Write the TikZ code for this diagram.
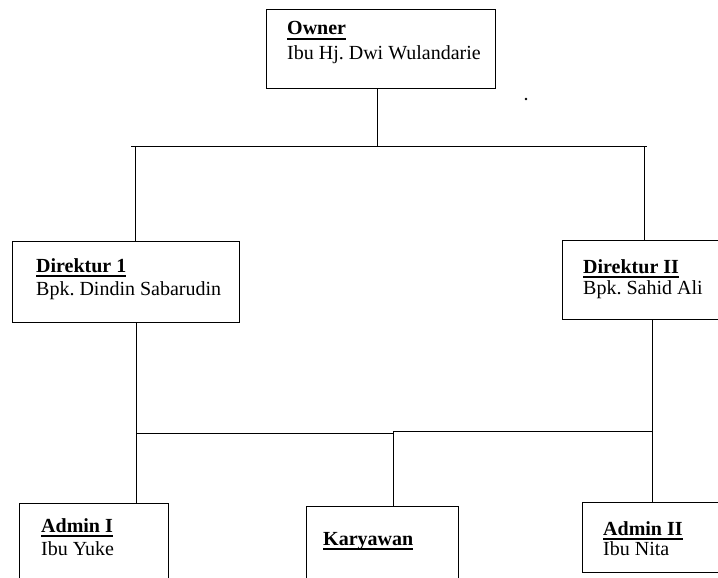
\documentclass[tikz,border=0pt]{standalone}
\usepackage{fontspec}
\setmainfont{Liberation Serif}
\frenchspacing
\newcommand{\hdul}[1]{\setbox0\hbox{#1}\rlap{\rule[-4.5pt]{\wd0}{1.8pt}}\box0}
\begin{document}
\begin{tikzpicture}[x=1pt,y=-1pt,
  box/.style={draw, line width=1.2pt, rectangle, anchor=north west, inner sep=0pt},
  txt/.style={anchor=base west, inner sep=0pt, font=\fontsize{20}{24}\selectfont},
  conn/.style={line width=1pt}]
\useasboundingbox (0,0) rectangle (718,578);
\clip (0,0) rectangle (718,578);
% boxes
\node[box, minimum width=229pt, minimum height=79pt] (owner) at (266,9) {};
\node[box, minimum width=227pt, minimum height=81pt] (d1) at (12,241) {};
\node[box, minimum width=170pt, minimum height=79pt] (d2) at (562,240) {};
\node[box, minimum width=149pt, minimum height=100pt] (a1) at (19,503) {};
\node[box, minimum width=152pt, minimum height=100pt] (kar) at (306,506) {};
\node[box, minimum width=150pt, minimum height=70pt] (a2) at (582,502) {};
% texts
\node[txt] (ownerA) at (287,35) {\hdul{\textbf{Owner}}};
\node[txt] (ownerB) at (287,60) {Ibu Hj. Dwi Wulandarie};
\node[txt] (d1A) at (36,272) {\hdul{\textbf{Direktur 1}}};
\node[txt] (d1B) at (36,295) {Bpk. Dindin Sabarudin};
\node[txt] (d2A) at (583,273) {\hdul{\textbf{Direktur II}}};
\node[txt] (d2B) at (583,294) {Bpk. Sahid Ali};
\node[txt] (a1A) at (41,532) {\hdul{\textbf{Admin I}}};
\node[txt] (a1B) at (41,555) {Ibu Yuke};
\node[txt] (karA) at (323,545) {\hdul{\textbf{Karyawan}}};
\node[txt] (a2A) at (603,535) {\hdul{\textbf{Admin II}}};
\node[txt] (a2B) at (603,555) {Ibu Nita};
% stray dot
\fill (526,99) circle (1.3pt);
% connectors
\coordinate (bL) at (131,146);
\coordinate (bR) at (647,146);
\coordinate (jO) at (377,146);
\coordinate (jL) at (135,146);
\coordinate (jR) at (644,146);
\draw[conn] (bL) -- (bR);
\draw[conn] (jO |- owner.south) -- (jO);
\draw[conn] (jL) -- (jL |- d1.north);
\draw[conn] (jR) -- (jR |- d2.north);
\coordinate (kL) at (136,433);
\coordinate (kM) at (393,433);
\coordinate (kN) at (393,431);
\coordinate (kR) at (652,431);
\draw[conn] (kL |- d1.south) -- (kL |- a1.north);
\draw[conn] (kL) -- (kM);
\draw[conn] (kN) -- (kR);
\draw[conn] (kN) -- (kN |- kar.north);
\draw[conn] (kR |- d2.south) -- (kR |- a2.north);
\end{tikzpicture}
\end{document}
